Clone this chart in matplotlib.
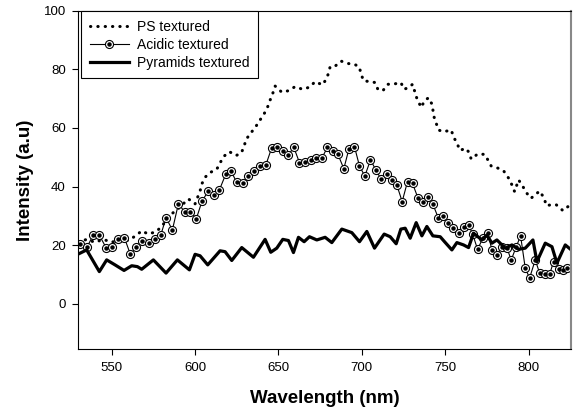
import matplotlib
matplotlib.use("Agg")
import matplotlib.pyplot as plt
from matplotlib.legend_handler import HandlerTuple

plt.rcParams['font.family'] = ['Liberation Sans', 'DejaVu Sans']

# PS textured (dotted curve)
ps_wl = [530, 535, 540, 545, 550, 555, 560, 564.6, 568, 572, 576.6, 580, 585, 589, 596,
         600, 603, 604.2, 606.4, 609, 613, 617, 620.6, 624.6, 627.6, 629.4, 630.4, 633,
         636, 638.6, 641.4, 643.6, 645, 646.6, 648, 652, 656, 660, 664.4, 668.6, 672,
         676.4, 678.6, 680, 681, 684, 687.6, 691.6, 695.6, 698.4, 699.6, 701, 705, 708,
         709.6, 712.6, 715.6, 719.4, 723.4, 725.4, 728.4, 730.4, 731.6, 733, 735.6,
         737.6, 740, 742, 743.4, 746, 749, 753.6, 755, 757, 759, 762, 764, 765.6, 769.4,
         773.6, 775.6, 777.6, 781.6, 785, 788, 790, 791.6, 794, 796.6, 799, 801.4, 804,
         806.6, 809.4, 810.6, 813.6, 816.6, 820.6, 825]
ps_val = [21, 22, 21, 22, 21, 22, 21.6, 23.3, 24.9, 23.8, 24.6, 26.4, 30.3, 32, 35.8,
          34.1, 38.5, 41.1, 43.4, 44.8, 45.9, 50.2, 51.9, 50.6, 51.4, 53.6, 55.9, 58,
          60.1, 62.4, 64.8, 67.3, 69.5, 71.8, 74.3, 72.2, 72.7, 74.1, 73.2, 73.9, 75.8,
          74.7, 76.6, 78.6, 80.9, 81.1, 82.8, 82, 81.7, 80.9, 78.4, 76.1, 75.8, 75.5,
          73.2, 72.7, 74.9, 75, 75.5, 73.2, 73.9, 74.9, 72.7, 70.1, 67, 69.3, 70.3, 68.2,
          63.6, 59.3, 58.7, 59.3, 57, 54.8, 52.3, 53.1, 51.9, 49.4, 51.1, 51, 49.1, 47,
          46.3, 45.4, 42.9, 40.6, 38.3, 42.3, 40, 37.7, 36, 37.2, 38.5, 36, 33.5, 33.8,
          33.8, 31.8, 33.8]

# Acidic textured (circle markers)
ac_wl = [531, 535.2, 539, 542.6, 546.6, 550, 553.8, 557.6, 561.2, 564.8, 568.4, 572.2,
         575.8, 579.4, 582.6, 586.4, 590, 593.8, 597.2, 600.8, 604.2, 608, 611.4, 614.6,
         618.4, 621.6, 625, 628.6, 632, 635.4, 638.8, 642.4, 646, 649.4, 652.8, 656,
         659.2, 662.6, 666, 669.4, 672.8, 676, 679.4, 682.6, 685.6, 689.2, 692.2, 695.6,
         698.6, 701.8, 705.2, 708.4, 711.6, 714.8, 718, 721, 724.2, 727.4, 730.4, 733.6,
         736.6, 739.8, 742.6, 745.8, 748.6, 751.4, 754.6, 758, 761, 764, 766.4, 769.4,
         772.6, 775.6, 778, 781, 784, 787, 789.6, 792.6, 795.2, 798, 800.6, 804, 806.6,
         809.6, 812.6, 815, 818, 820.4, 823.2]
ac_val = [20.3, 19.3, 23.6, 23.4, 19.2, 19.5, 22.0, 22.6, 16.9, 19.4, 21.6, 20.6, 22.1,
          23.4, 29.4, 25.2, 34.1, 31.4, 31.4, 29.1, 35.1, 38.5, 37.2, 38.9, 44.2, 45.3,
          41.4, 41.1, 43.6, 45.3, 47.0, 47.3, 53.3, 53.4, 52.3, 50.8, 53.4, 48.2, 48.5,
          49.1, 49.7, 49.7, 53.4, 52.2, 51.1, 46.1, 52.7, 53.6, 47.0, 43.6, 49.1, 45.7,
          42.5, 44.2, 42.3, 40.5, 34.9, 41.7, 41.1, 36.2, 34.7, 36.6, 34.0, 29.4, 30.1,
          27.7, 26.0, 24.3, 26.1, 26.9, 23.9, 18.6, 22.4, 24.1, 18.4, 16.7, 19.5, 19.0,
          15.0, 19.5, 23.2, 12.2, 8.8, 15.0, 10.5, 10.1, 10.1, 14.4, 11.8, 11.4, 12.4]

# Pyramids textured (thick line)
py_wl = [530, 535, 542.6, 547, 552, 557.4, 562, 565.4, 568, 575, 582.6, 589.4, 596.6,
         600, 603, 607.6, 615, 618, 622, 628, 635, 642, 645.4, 649, 652.6, 656, 659, 662,
         665.4, 668.6, 673, 678, 682, 688, 694, 698.6, 703, 707.6, 713.4, 717, 720.6,
         723.4, 726, 729, 732.6, 736, 739, 742.6, 747, 749.6, 754, 757, 761, 764, 767,
         772, 775, 778, 781, 786, 790, 794, 798, 802.6, 805, 810, 814, 817, 822, 825.6]
py_val = [17.0, 18.4, 11.0, 15.0, 13.3, 11.4, 13.0, 12.7, 11.8, 15.0, 10.5, 15.0, 11.6,
          16.9, 16.4, 13.3, 18.1, 17.8, 14.8, 19.2, 15.9, 22.0, 17.6, 19.0, 22.0, 21.6,
          17.5, 22.7, 21.2, 22.9, 21.8, 22.7, 20.9, 25.5, 24.3, 21.2, 24.7, 19.0, 23.8,
          22.9, 20.5, 25.5, 25.8, 22.4, 27.7, 23.2, 26.4, 23.2, 22.9, 21.2, 18.4, 20.9,
          20.1, 19.2, 24.1, 21.8, 23.5, 20.7, 21.8, 19.0, 20.1, 18.6, 19.0, 21.8, 14.4,
          20.7, 19.5, 13.9, 20.1, 18.4]

fig = plt.figure(figsize=(5.73, 4.12), dpi=100)
ax = fig.add_axes([0.1367, 0.1522, 0.86, 0.8218])

ps_line, = ax.plot(ps_wl, ps_val, color='black', lw=2.2,
                   linestyle=(0, (0.1, 2.3)), dash_capstyle='round')
ac_line, = ax.plot(ac_wl, ac_val, color='black', lw=0.8, marker='o', ms=5.8,
                   mfc='white', mec='black', mew=0.8)
ac_dot, = ax.plot(ac_wl, ac_val, linestyle='none', marker='o', ms=2.2,
                  color='black')
py_line, = ax.plot(py_wl, py_val, color='black', lw=2.3)

ax.set_xlim(530, 825.5)
ax.set_ylim(-15.5, 100)
ax.set_xticks([550, 600, 650, 700, 750, 800])
ax.set_yticks([0, 20, 40, 60, 80, 100])
ax.tick_params(direction='out', length=4, width=0.8, labelsize=9.5, pad=5)
ax.spines['right'].set_color('#888888')
ax.spines['right'].set_linewidth(1.5)

ax.set_xlabel('Wavelength (nm)', fontsize=13.5, fontweight='bold', labelpad=12)
ax.set_ylabel('Intensity (a.u)', fontsize=13.5, fontweight='bold', labelpad=7)

leg = ax.legend([ps_line, (ac_line, ac_dot), py_line],
                ['PS textured', 'Acidic textured', 'Pyramids textured'],
                handler_map={tuple: HandlerTuple(ndivide=1)},
                loc='upper left', bbox_to_anchor=(0.006, 0.998), borderaxespad=0,
                fontsize=10, numpoints=1, handlelength=2.8, labelspacing=0.3,
                borderpad=0.6, handletextpad=0.6, fancybox=False,
                framealpha=1, edgecolor='black')
leg.get_frame().set_linewidth(0.8)

fig.savefig('out.png', dpi=100)
